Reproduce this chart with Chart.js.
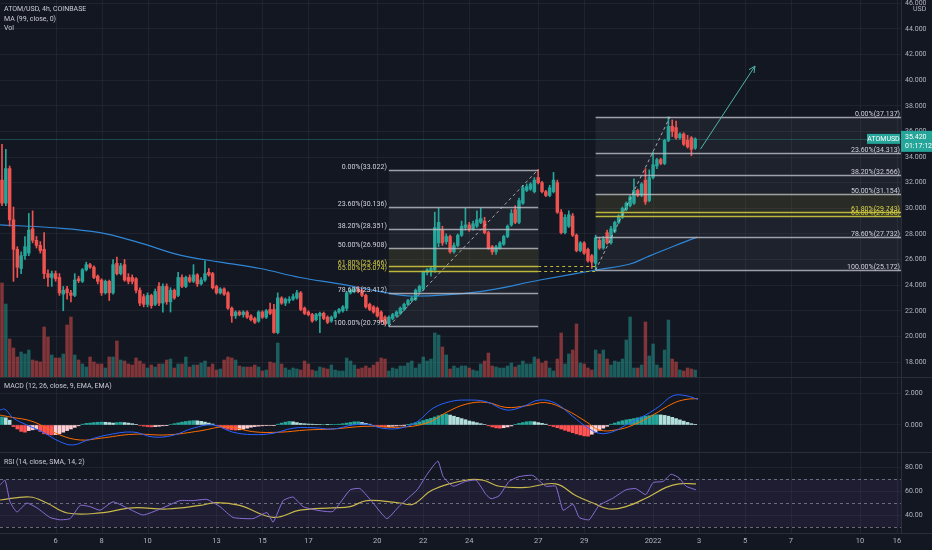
<!DOCTYPE html>
<html>
<head>
<meta charset="utf-8">
<script src="https://cdn.jsdelivr.net/npm/chart.js@4.4.1/dist/chart.umd.min.js"></script>
<style>
  html, body { margin: 0; padding: 0; background: #131722; width: 932px; height: 550px; overflow: hidden; }
  canvas { position: absolute; left: 0; }
  .sep { position: absolute; background: #2a2e39; }
  .lbl { position: absolute; left: 4px; font: 7px "Liberation Sans Narrow", Roboto, sans-serif; color: #c9ccd4; white-space: nowrap; z-index: 5; }
</style>
</head>
<body>
<div class="sep" style="left:901px;top:0;width:1px;height:533px"></div>
<div class="sep" style="left:0;top:377px;width:932px;height:1px"></div>
<div class="sep" style="left:0;top:452px;width:932px;height:1px"></div>
<div class="sep" style="left:0;top:533px;width:932px;height:1px"></div>

<canvas id="main" style="top:0;width:932px;height:377px" width="932" height="377"></canvas>
<canvas id="macd" style="top:378px;width:932px;height:74px" width="932" height="74"></canvas>
<canvas id="rsi" style="top:453px;width:932px;height:97px" width="932" height="97"></canvas>

<div class="lbl" style="top:5px">ATOM/USD, 4h, COINBASE</div>
<div class="lbl" style="top:14.5px">MA (99, close, 0)</div>
<div class="lbl" style="top:24px">Vol</div>
<div class="lbl" style="top:382px">MACD (12, 26, close, 9, EMA, EMA)</div>
<div class="lbl" style="top:458px">RSI (14, close, SMA, 14, 2)</div>

<script>
// --- data (4h candles, index 0 = first visible candle) ---
const opens = [
  32.2,30.4,33.1,29.1,26.8,25.3,26.3,26.5,28.4,27.5,
  27.1,26.8,24.9,24.6,24.9,24.6,23.3,23.7,23.4,23.2,
  24.5,24.3,25.2,25.6,25.4,24.7,24.4,23.4,24.3,23.4,
  25.7,24.9,25.6,24.6,24.6,24.5,23.6,23.1,22.5,23.2,
  22.5,23.9,22.6,23.9,22.7,23.6,23.2,24.6,23.9,24.6,
  24.3,24.8,24.1,24.4,25.0,24.9,23.9,23.4,23.7,23.4,
  22.2,21.6,21.9,21.7,21.9,21.6,21.4,21.2,21.9,21.5,
  22.1,22.1,20.3,23.0,22.6,22.8,22.9,23.0,23.4,22.2,
  21.9,21.7,21.3,21.6,21.8,21.5,21.2,21.5,21.9,22.0,
  22.2,23.4,23.5,23.7,23.6,23.2,22.5,22.3,22.2,21.9,
  21.5,21.0,21.4,21.6,21.8,22.1,22.5,22.8,22.9,23.5,
  23.7,25.0,25.1,25.2,27.3,28.3,27.4,27.8,26.6,27.1,
  27.9,28.5,28.7,28.4,28.6,28.9,29.0,28.1,27.0,26.6,
  26.9,27.2,27.8,28.7,29.9,28.9,30.4,31.4,31.5,31.3,
  32.4,32.0,31.3,31.0,31.3,32.0,29.7,28.1,28.6,29.4,
  27.9,26.7,27.3,26.8,26.3,25.7,27.5,26.9,28.1,27.3,
  28.2,28.9,29.3,29.9,30.2,30.4,31.4,31.0,32.2,30.6,
  32.4,33.3,33.8,33.5,35.3,36.4,36.3,35.5,35.8,35.3,
  35.5,34.7
];
const highs = [
  35.0,34.6,33.3,30.1,27.0,26.6,27.8,29.6,29.8,27.8,
  27.4,28.1,25.2,25.1,25.1,24.9,23.9,23.9,23.6,24.9,
  24.7,25.3,25.8,25.7,25.5,24.8,24.5,24.4,24.4,26.0,
  26.2,25.7,26.0,24.9,24.8,24.6,23.8,23.3,23.4,23.3,
  23.7,24.2,24.1,24.1,23.8,23.7,25.0,24.8,24.7,24.8,
  25.6,24.9,24.6,25.9,25.3,25.0,24.0,23.8,23.8,23.5,
  22.3,22.0,22.0,22.0,22.0,21.7,21.5,22.0,22.0,22.1,
  22.6,22.5,23.4,23.1,23.0,23.1,23.3,23.6,23.5,22.3,
  22.0,21.8,21.8,21.9,21.9,21.6,21.6,22.0,22.2,22.4,
  23.5,23.7,23.8,23.9,23.7,23.3,22.6,22.4,22.3,22.0,
  21.6,21.6,21.8,22.0,22.3,22.6,22.9,23.1,23.7,24.0,
  25.1,25.3,25.4,29.7,30.0,28.6,28.0,27.9,27.3,28.0,
  29.0,30.0,28.9,29.0,29.8,30.0,29.3,28.2,27.1,27.1,
  27.4,27.9,28.7,29.9,30.2,30.8,31.8,31.9,32.0,32.4,
  33.022,32.1,31.4,31.8,32.8,32.2,29.9,29.5,29.8,29.6,
  28.0,27.4,27.4,26.9,26.4,27.9,27.7,27.8,28.3,28.6,
  29.0,29.5,30.1,30.5,31.0,32.3,31.5,32.0,33.1,33.0,
  34.4,33.9,33.9,35.4,37.137,36.9,36.8,35.9,35.9,35.7,
  35.6,35.5
];
const lows = [
  30.2,30.2,28.6,24.3,24.6,24.9,26.0,26.3,27.3,26.9,
  26.5,24.5,23.9,23.9,24.3,23.2,22.0,22.9,22.7,23.1,
  24.2,24.2,25.1,25.3,24.5,24.1,23.2,23.3,22.8,23.3,
  24.8,24.8,24.3,24.1,24.1,23.4,22.4,22.3,22.3,22.2,
  22.4,22.4,21.9,22.5,21.9,22.9,23.1,23.8,23.8,24.2,
  24.2,23.9,24.0,24.3,24.7,23.7,23.3,23.3,23.2,22.1,
  21.1,21.4,21.6,21.5,21.4,21.2,21.0,21.1,21.4,21.4,
  21.7,20.25,20.2,22.5,22.4,22.6,22.8,22.9,22.0,21.7,
  21.6,21.1,21.2,20.3,21.3,21.0,21.1,21.4,21.8,21.9,
  22.0,23.3,23.4,23.4,23.1,22.2,22.0,21.8,21.5,21.1,
  20.9,20.795,21.3,21.5,21.7,22.0,22.4,22.7,22.8,23.4,
  23.6,24.8,24.7,25.0,27.0,27.1,27.2,26.5,26.5,27.0,
  27.8,28.3,28.2,28.3,28.5,28.8,28.0,26.8,26.4,26.4,
  26.8,27.1,27.7,28.6,28.8,28.8,30.3,31.3,31.4,31.2,
  31.9,31.2,30.9,30.9,31.2,29.6,28.0,28.0,28.5,27.8,
  26.6,26.6,26.4,25.8,25.3,25.172,26.8,26.8,27.2,27.2,
  28.1,28.8,29.2,29.8,30.1,30.3,30.9,30.9,30.3,30.5,
  32.3,33.1,33.4,33.4,35.2,35.6,35.4,35.4,34.9,34.7,
  34.1,34.6
];
const closes = [
  30.4,33.1,29.1,26.8,25.4,26.3,27.0,28.3,27.5,27.1,
  26.7,24.9,24.6,24.9,24.5,23.4,23.6,23.4,23.2,24.4,
  24.35,25.2,25.6,25.4,24.6,24.3,23.4,24.3,23.4,25.6,
  24.9,25.5,24.4,24.3,24.3,23.6,22.6,22.5,23.2,22.4,
  23.5,22.6,23.9,22.7,23.6,23.0,24.6,23.9,24.6,24.3,
  24.8,24.1,24.4,24.9,24.8,23.8,23.4,23.7,23.3,22.2,
  21.6,21.9,21.7,21.9,21.5,21.3,21.1,21.9,21.5,22.0,
  21.8,20.3,23.0,22.6,22.9,22.9,23.1,23.4,22.1,21.8,
  21.7,21.2,21.7,21.8,21.4,21.1,21.5,21.9,22.1,22.3,
  23.4,23.6,23.7,23.5,23.2,22.3,22.1,21.9,21.6,21.2,
  21.0,21.5,21.7,21.9,22.2,22.5,22.8,23.0,23.6,23.9,
  25.0,25.2,25.3,28.5,28.9,27.3,27.8,26.6,27.1,27.9,
  28.6,28.7,28.4,28.8,29.1,29.2,28.1,26.9,26.6,27.0,
  27.3,27.8,28.6,29.6,28.9,30.6,31.6,31.7,31.9,32.2,
  32.0,31.3,31.0,31.6,32.2,29.7,28.1,29.3,29.5,27.9,
  26.7,27.3,26.5,25.9,25.8,27.7,26.9,27.6,27.3,28.4,
  28.9,29.4,30.0,30.4,30.9,31.4,31.0,31.9,30.5,32.4,
  33.4,33.8,33.5,35.3,36.4,36.0,35.5,35.8,35.0,34.8,
  34.6,35.42
];
const volumes = [
  94,73,38,29,20,25,23,27,17,16,15,50,40,22,19,19,23,52,60,22,
  17,13,10,20,15,13,13,9,20,20,36,17,16,13,12,19,16,
  13,9,12,10,13,13,17,18,9,13,13,20,10,12,12,14,16,10,13,7,
  8,17,20,19,17,11,10,10,10,12,10,6,7,15,14,34,
  13,9,7,9,8,7,16,13,7,6,10,9,8,12,7,6,6,19,16,12,8,9,11,9,12,15,19,18,
  6,9,8,11,11,14,16,9,13,20,16,18,44,42,30,22,8,11,9,11,
  11,9,7,6,13,16,24,11,10,9,9,11,14,10,12,16,13,13,20,18,
  14,16,9,6,18,44,13,23,27,53,14,13,9,7,
  27,23,27,18,12,16,15,18,37,60,9,9,12,55,21,33,12,9,27,57,
  18,15,7,6,9,8,7
];

// MA(99) (candle index, price)
const maIdx = [-0.5, 12.5, 25.6, 36, 46.5, 57, 67.4, 77.8, 88.2, 98.7, 107.3, 124.8, 140.5, 155.4, 164, 168.4, 175, 181.5];
const maVal = [28.7, 28.5, 28.1, 27.3, 26.35, 25.8, 25.3, 24.6, 24.1, 23.5, 23.15, 23.5, 24.4, 25.2, 25.65, 26.2, 27.0, 27.75];

// MACD
const macdHist = [
  0.5,0.45,0.3,
  -0.1,-0.25,-0.4,-0.45,
  -0.35,-0.3,-0.25,
  -0.4,-0.55,-0.6,-0.62,-0.6,-0.55,
  -0.45,-0.35,-0.25,-0.15,-0.05,
  0.05,0.1,0.12,0.15,0.17,0.18,0.17,0.15,0.12,0.15,0.17,0.15,0.12,0.08,0.04,
  -0.03,-0.07,-0.1,-0.12,-0.1,-0.08,-0.05,-0.02,
  0.03,0.08,0.13,
  0.18,0.22,0.25,0.27,0.26,0.23,0.18,0.12,0.06,
  -0.05,-0.12,-0.2,-0.26,
  -0.3,-0.32,-0.3,-0.26,-0.2,-0.14,
  -0.1,-0.07,-0.05,-0.04,-0.03,-0.02,
  0.05,0.12,0.18,0.22,0.2,0.15,0.1,
  0.08,0.06,0.05,0.04,0.03,0.03,0.02,0.02,0.03,0.05,0.08,
  0.12,0.16,0.2,0.2,0.16,0.1,0.05,
  -0.04,-0.08,-0.1,-0.12,-0.1,-0.08,-0.06,-0.03,-0.01,0.02,
  0.08,0.14,0.2,0.28,0.35,0.42,0.5,0.58,0.65,0.68,
  0.62,0.55,0.48,0.4,0.33,
  0.25,0.2,0.14,0.08,0.03,
  -0.05,-0.12,-0.18,-0.2,-0.17,-0.12,-0.06,
  0.04,0.1,0.15,0.2,0.22,0.2,0.15,0.1,0.05,
  -0.04,-0.1,-0.17,-0.25,-0.33,-0.4,-0.48,-0.56,-0.62,-0.68,-0.7,
  -0.58,-0.45,-0.33,-0.2,-0.08,
  0.05,0.12,0.2,0.27,0.32,
  0.36,0.4,0.45,0.5,0.55,0.58,0.62,0.64,0.63,0.6,0.55,0.48,0.4,
  0.32,0.24,0.16,0.08,0.02
];
const macdIdx = [-0.5,0.8,2.9,6.5,10.7,15.1,18.5,22.2,27.4,34.2,39.4,44.6,49.9,55.1,60.3,65.5,70.8,76,81.2,86.4,91.6,95.3,99.5,103.9,108.4,112.5,117,121.1,126.4,131.6,136,140.2,144.6,149.1,152.5,155.9,159.5,162.9,168.1,171.5,175.2,178.6,181.7];
const macdVal = [0.94,0.98,0.44,0,-0.45,-1.04,-1.25,-0.96,-0.63,-0.44,-0.75,-0.65,-0.2,0,-0.45,-0.6,-0.52,-0.2,-0.17,-0.25,0,0.04,-0.21,-0.2,0.2,1.04,1.46,1.56,1.46,0.94,1.15,1.56,1.35,0.52,-0.1,-0.52,-0.42,0,0.63,1.15,1.83,1.83,1.6];
const sigIdx = [-0.5,2.1,8.1,15.1,20.4,25.6,34.2,43.1,51.7,58.7,65.5,72.6,79.6,86.4,95.3,103.9,111,116.2,121.1,126.4,131.6,136.8,142,147.3,152.5,155.9,160.3,164.8,170,175.2,178.6,181.7];
const sigVal = [0.62,0.5,0.21,-0.62,-0.94,-0.83,-0.58,-0.62,-0.37,-0.1,-0.42,-0.45,-0.31,-0.25,-0.08,-0.14,0.13,0.81,1.3,1.42,1.1,1.2,1.4,0.94,0.21,-0.31,-0.31,0,0.63,1.35,1.6,1.65];

// RSI
const rsiIdx = [-0.5,0.8,2.1,3.9,6.5,9.1,12.5,15.1,17.8,20.4,23,25.6,29,32.6,36.8,41.3,46.5,49.9,53.5,56.9,60.3,65.5,69.2,70.8,73.4,76,78.6,82.2,86.4,90.9,93.5,96.9,100.5,103.9,108.4,111,113.8,115.2,117.8,121.1,123.8,126.4,127.7,129.8,132.4,135,138.6,142,144.6,146.5,149.1,150.7,153.3,155.9,159.5,162.9,165.5,168.1,170,172.6,174.7,176.8,178.6,181.2];
const rsiVal = [65,69,51,42.5,50,46,38,36,37,48,47,44,51,46,40,45,52,52,53,47,38,37,42,34,52,55,47,44,43,61,62,50,37,48,61,74,85,72,64,68,69,57,53.6,56,68,72,73,64,64,44,49,38,36,48,54,61,62,57,67,68,74,71,64,61];
const rsiMaIdx = [-0.5,7.3,11.7,17,25.6,34.2,43.1,51.7,56.1,62.1,70.8,77.8,86.4,90.9,95.3,103.9,107.3,112.5,121.1,125.6,129.8,136.8,144.6,149.9,154.3,158.5,162.9,168.1,173.4,176.8,181.2];
const rsiMaVal = [52.5,55,50,41.7,41.7,46,45,48,50.4,48,38,44,46,47,52,50,49,61,69,69,64,63,66,56,50,45,47,54,63,66,66];

// Fibonacci retracements drawn on the chart
const fibRatios = [0, 0.236, 0.382, 0.5, 0.618, 0.65, 0.786, 1];
const fib1Prices = [33.022, 30.136, 28.351, 26.908, 25.466, 25.074, 23.412, 20.795];
const fib2Prices = [37.137, 34.313, 32.566, 31.154, 29.743, 29.360, 27.732, 25.172];
const fib1Span = [101, 140];
const fib2Span = [155, 235];
const arrowFrom = [182.4, 34.63];
const arrowTo = [196.6, 41.1];

// time axis: day labels at candle positions
const dayTickIdx = [14, 26, 38, 56, 68, 80, 98, 110, 122, 140, 152, 170, 182, 194, 206, 224, 233.7];
const dayTickLabels = ['6', '8', '10', '13', '15', '17', '20', '22', '24', '27', '29', '2022', '3', '5', '7', '10', '16'];
const priceTicks = [18, 20, 22, 24, 26, 28, 30, 32, 34, 36, 38, 40, 42, 44, 46];
const macdTicks = [0, 2];
const rsiTicks = [40, 60, 80];

// --- styling ---
const UP = '#26a69a', DOWN = '#ef5350';
const GRID = 'rgba(42,46,57,0.55)';
const TXT = '#b2b5be';
const FONT = '"Liberation Sans Narrow", Roboto, sans-serif';
const X_MIN = -0.52, X_MAX = 234.73, AXIS_W = 31;

Chart.defaults.font.family = FONT;
Chart.defaults.font.size = 7;
Chart.defaults.color = TXT;

const candleColors = closes.map((c, i) => c >= opens[i] ? UP : DOWN);
const volColors = closes.map((c, i) => c >= opens[i] ? 'rgba(38,166,154,0.5)' : 'rgba(239,83,80,0.5)');
const histColors = macdHist.map((h, i) => {
  const prev = i ? macdHist[i - 1] : h;
  if (h >= 0) return h >= prev ? '#26a69a' : '#b2dfdb';
  return h <= prev ? '#ff5252' : '#ffcdd2';
});
const pts = (xs, ys) => xs.map((x, i) => ({ x, y: ys[i] }));

function xScale(show) {
  return {
    type: 'linear', min: X_MIN, max: X_MAX, offset: false, display: show,
    grid: { display: false, offset: false, drawTicks: false },
    border: { display: false },
    afterBuildTicks: s => { s.ticks = dayTickIdx.map(v => ({ value: v })); },
    afterFit: s => {
      s.height = show ? 17 : 0;
      s.paddingLeft = 0; s.paddingRight = 0; s.paddingTop = 0; s.paddingBottom = 0;
    },
    ticks: {
      autoSkip: false, maxRotation: 0, padding: 4, color: TXT, font: { size: 7.5 },
      callback: v => { const k = dayTickIdx.indexOf(v); return k >= 0 ? dayTickLabels[k] : ''; }
    }
  };
}
function yScale(min, max, ticks, digits) {
  return {
    position: 'right', min, max,
    afterBuildTicks: s => { s.ticks = ticks.map(v => ({ value: v })); },
    afterFit: s => {
      s.width = AXIS_W;
      s.paddingTop = 0; s.paddingBottom = 0; s.paddingLeft = 0; s.paddingRight = 0;
    },
    ticks: { color: TXT, padding: 4, font: { size: 7 }, callback: v => v.toFixed(digits) },
    grid: { color: GRID, drawTicks: false },
    border: { display: false }
  };
}
const baseOpts = {
  responsive: false, animation: false, events: [],
  layout: { padding: 0, autoPadding: false },
  plugins: { legend: { display: false }, tooltip: { enabled: false } }
};

const vgrid = {
  id: 'vgrid',
  beforeDatasetsDraw(chart) {
    const { ctx, chartArea: a, scales: { x } } = chart;
    ctx.save();
    ctx.strokeStyle = GRID;
    ctx.lineWidth = 1;
    dayTickIdx.forEach(v => {
      const px = Math.round(x.getPixelForValue(v)) + 0.5;
      if (px > a.right) return;
      ctx.beginPath(); ctx.moveTo(px, a.top); ctx.lineTo(px, a.bottom); ctx.stroke();
    });
    ctx.restore();
  }
};

function fibFill(ctx, x, y, span, prices) {
  const x0 = x.getPixelForValue(span[0]), x1 = Math.min(x.getPixelForValue(span[1]), x.right);
  for (let k = 0; k < prices.length - 1; k++) {
    const ya = y.getPixelForValue(prices[k]), yb = y.getPixelForValue(prices[k + 1]);
    const gold = fibRatios[k] >= 0.5 && fibRatios[k + 1] <= 0.65;
    ctx.fillStyle = gold ? 'rgba(150,145,60,0.17)' : 'rgba(120,123,134,0.11)';
    ctx.fillRect(x0, ya, x1 - x0, yb - ya);
  }
}
function fibLines(ctx, x, y, span, prices, side) {
  const x0 = x.getPixelForValue(span[0]), x1 = Math.min(x.getPixelForValue(span[1]), x.right);
  ctx.font = '7px ' + FONT;
  ctx.textAlign = 'right';
  ctx.textBaseline = 'alphabetic';
  prices.forEach((p, k) => {
    const yy = Math.round(y.getPixelForValue(p)) + 0.5;
    const gold = fibRatios[k] === 0.618 || fibRatios[k] === 0.65;
    ctx.strokeStyle = gold ? '#bdb63c' : 'rgba(190,193,200,0.8)';
    ctx.lineWidth = 1.4;
    ctx.beginPath(); ctx.moveTo(x0, yy); ctx.lineTo(x1, yy); ctx.stroke();
    ctx.fillStyle = gold ? '#d6cf45' : '#d1d4dc';
    const txt = (fibRatios[k] * 100).toFixed(2) + '%(' + p.toFixed(3) + ')';
    ctx.fillText(txt, side === 'left' ? x0 - 2 : x1 - 1, yy - 1.5);
  });
}

const mainPlugin = {
  id: 'drawings',
  beforeDatasetsDraw(chart) {
    const { ctx, scales: { x, y } } = chart;
    ctx.save();
    fibFill(ctx, x, y, fib1Span, fib1Prices);
    fibFill(ctx, x, y, fib2Span, fib2Prices);
    // last price line
    const ly = Math.round(y.getPixelForValue(closes[closes.length - 1])) + 0.5;
    ctx.strokeStyle = 'rgba(38,166,154,0.35)';
    ctx.lineWidth = 1;
    ctx.beginPath(); ctx.moveTo(0, ly); ctx.lineTo(x.right, ly); ctx.stroke();
    ctx.restore();
  },
  afterDatasetsDraw(chart) {
    const { ctx, scales: { x, y } } = chart;
    ctx.save();
    fibLines(ctx, x, y, fib1Span, fib1Prices, 'left');
    fibLines(ctx, x, y, fib2Span, fib2Prices, 'right');
    // dashed trend lines from swing low to swing high
    ctx.setLineDash([3, 3]);
    ctx.strokeStyle = 'rgba(200,202,210,0.8)';
    ctx.lineWidth = 1;
    [[fib1Span[0], fib1Prices[7], fib1Span[1], fib1Prices[0]], [fib2Span[0], fib2Prices[7], 174.4, fib2Prices[0]]].forEach(l => {
      ctx.beginPath();
      ctx.moveTo(x.getPixelForValue(l[0]), y.getPixelForValue(l[1]));
      ctx.lineTo(x.getPixelForValue(l[2]), y.getPixelForValue(l[3]));
      ctx.stroke();
    });
    // extension of the golden pocket between the two retracements
    ctx.strokeStyle = '#bdb63c';
    [fib1Prices[4], fib1Prices[5]].forEach(p => {
      const yy = Math.round(y.getPixelForValue(p)) + 0.5;
      ctx.beginPath();
      ctx.moveTo(x.getPixelForValue(fib1Span[1]), yy);
      ctx.lineTo(x.getPixelForValue(fib2Span[0]), yy);
      ctx.stroke();
    });
    ctx.setLineDash([]);
    // arrow
    const ax0 = x.getPixelForValue(arrowFrom[0]), ay0 = y.getPixelForValue(arrowFrom[1]);
    const ax1 = x.getPixelForValue(arrowTo[0]), ay1 = y.getPixelForValue(arrowTo[1]);
    ctx.strokeStyle = '#4fb5ab';
    ctx.lineWidth = 1;
    ctx.beginPath(); ctx.moveTo(ax0, ay0); ctx.lineTo(ax1, ay1); ctx.stroke();
    const ang = Math.atan2(ay1 - ay0, ax1 - ax0);
    ctx.beginPath();
    ctx.moveTo(ax1 - 7 * Math.cos(ang - 0.45), ay1 - 7 * Math.sin(ang - 0.45));
    ctx.lineTo(ax1, ay1);
    ctx.lineTo(ax1 - 7 * Math.cos(ang + 0.45), ay1 - 7 * Math.sin(ang + 0.45));
    ctx.stroke();
    ctx.restore();
  },
  afterDraw(chart) {
    const { ctx, scales: { x, y } } = chart;
    const last = closes[closes.length - 1];
    const ly = y.getPixelForValue(last);
    ctx.save();
    ctx.fillStyle = '#26a69a';
    ctx.fillRect(x.right, ly - 8, AXIS_W, 21);
    ctx.fillRect(x.right - 34, ly - 5, 33, 10);
    ctx.fillStyle = '#ffffff';
    ctx.font = '7px ' + FONT;
    ctx.textBaseline = 'middle';
    ctx.textAlign = 'left';
    ctx.fillText(last.toFixed(3), x.right + 4, ly - 1.5);
    ctx.fillText('01:17:12', x.right + 4, ly + 7.5);
    ctx.textAlign = 'center';
    ctx.fillText('ATOMUSD', x.right - 17.5, ly);
    ctx.fillStyle = TXT;
    ctx.textAlign = 'left';
    ctx.fillText('USD', x.right + 12, 9);
    ctx.restore();
  }
};

new Chart(document.getElementById('main'), {
  type: 'bar',
  data: {
    datasets: [
      { type: 'bar', label: 'body', order: 1, grouped: false, barThickness: 2.8, minBarLength: 1,
        data: closes.map((c, i) => ({ x: i, y: [opens[i], c] })), backgroundColor: candleColors },
      { type: 'bar', label: 'wick', order: 2, grouped: false, barThickness: 1,
        data: highs.map((h, i) => ({ x: i, y: [lows[i], h] })), backgroundColor: candleColors },
      { type: 'line', label: 'MA 99', order: 3, data: pts(maIdx, maVal), borderColor: '#2f86d6',
        borderWidth: 1.2, pointRadius: 0, tension: 0.4, fill: false },
      { type: 'bar', label: 'Vol', order: 5, grouped: false, yAxisID: 'yVol', barThickness: 2.8,
        data: volumes.map((v, i) => ({ x: i, y: v })), backgroundColor: volColors }
    ]
  },
  options: {
    ...baseOpts,
    scales: {
      x: xScale(false),
      y: yScale(16.83, 46.26, priceTicks, 3),
      yVol: { display: false, min: 0, max: 377,
        afterFit: s => { s.width = 0; s.paddingTop = 0; s.paddingBottom = 0; } }
    }
  },
  plugins: [vgrid, mainPlugin]
});

new Chart(document.getElementById('macd'), {
  type: 'bar',
  data: {
    datasets: [
      { type: 'line', label: 'MACD', order: 1, data: pts(macdIdx, macdVal), borderColor: '#2962ff',
        borderWidth: 1, pointRadius: 0, tension: 0.4 },
      { type: 'line', label: 'Signal', order: 2, data: pts(sigIdx, sigVal), borderColor: '#ff6d00',
        borderWidth: 1, pointRadius: 0, tension: 0.4 },
      { type: 'bar', label: 'Histogram', order: 3, grouped: false, barThickness: 3,
        data: macdHist.map((h, i) => ({ x: i, y: h })), backgroundColor: histColors }
    ]
  },
  options: {
    ...baseOpts,
    scales: { x: xScale(false), y: yScale(-1.69, 2.94, macdTicks, 3) }
  },
  plugins: [vgrid]
});

const rsiBand = {
  id: 'rsiBand',
  beforeDatasetsDraw(chart) {
    const { ctx, chartArea: a, scales: { y } } = chart;
    ctx.save();
    const y70 = y.getPixelForValue(70), y30 = y.getPixelForValue(30);
    ctx.fillStyle = 'rgba(126,87,194,0.1)';
    ctx.fillRect(a.left, y70, a.right - a.left, y30 - y70);
    ctx.setLineDash([3, 3]);
    ctx.strokeStyle = 'rgba(140,143,155,0.7)';
    ctx.lineWidth = 1;
    [70, 50, 30].forEach(v => {
      const yy = Math.round(y.getPixelForValue(v)) + 0.5;
      ctx.beginPath(); ctx.moveTo(a.left, yy); ctx.lineTo(a.right, yy); ctx.stroke();
    });
    ctx.restore();
  }
};

new Chart(document.getElementById('rsi'), {
  type: 'line',
  data: {
    datasets: [
      { label: 'RSI', data: pts(rsiIdx, rsiVal), borderColor: '#8b6fd6', borderWidth: 1,
        pointRadius: 0, tension: 0.15 },
      { label: 'RSI MA', data: pts(rsiMaIdx, rsiMaVal), borderColor: '#c9b84c', borderWidth: 1.2,
        pointRadius: 0, tension: 0.4 }
    ]
  },
  options: {
    ...baseOpts,
    scales: { x: xScale(true), y: yScale(25, 91.7, rsiTicks, 2) }
  },
  plugins: [vgrid, rsiBand]
});
</script>
</body>
</html>
